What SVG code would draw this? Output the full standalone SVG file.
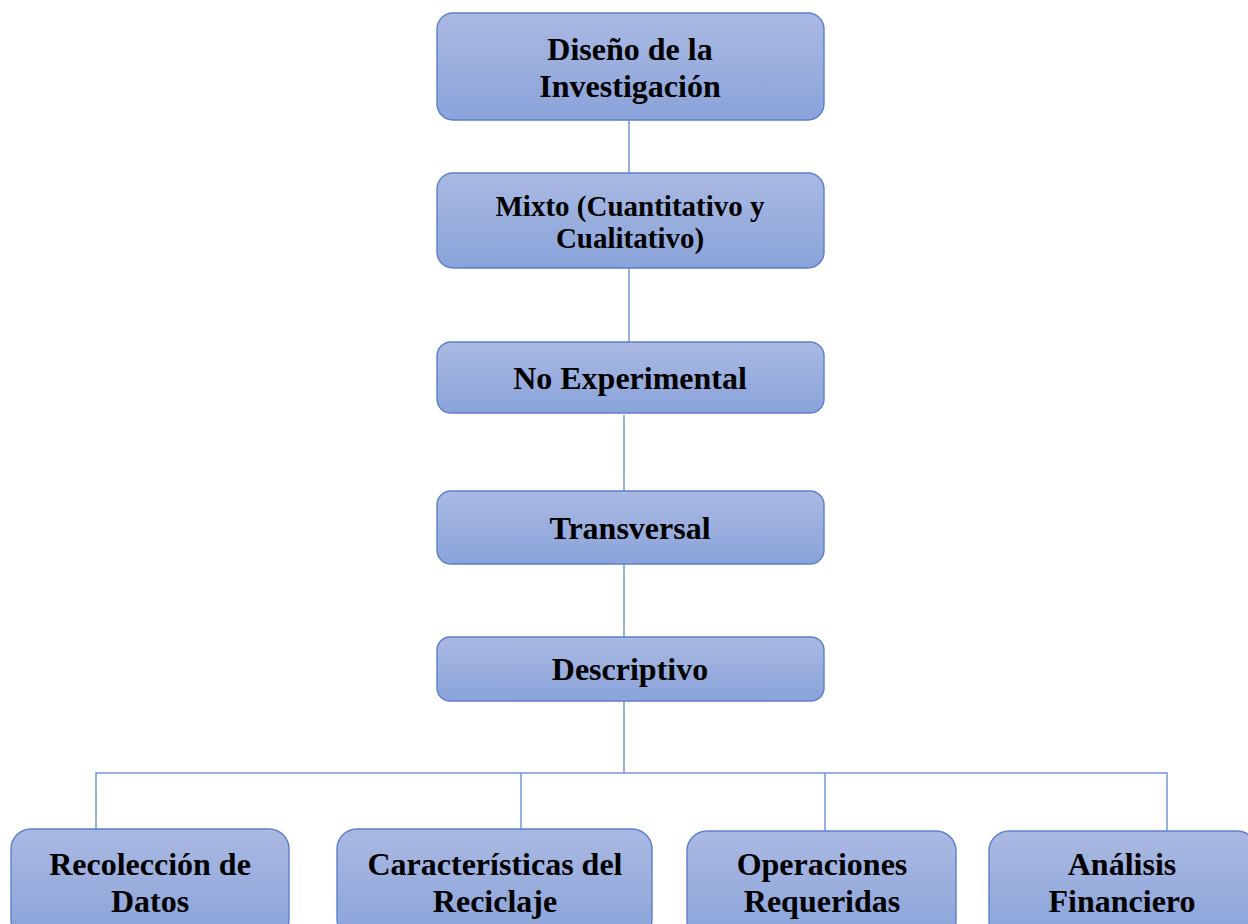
<svg xmlns="http://www.w3.org/2000/svg" width="1248" height="924" viewBox="0 0 1248 924">
<defs>
<linearGradient id="g" x1="0" y1="0" x2="0" y2="1">
<stop offset="0" stop-color="#aab9e2"/>
<stop offset="1" stop-color="#8aa3da"/>
</linearGradient>
<style>
.box{fill:url(#g);stroke:#5b80cb;stroke-width:1.4}
.t{font-family:"Liberation Serif","Times New Roman",serif;font-weight:bold;fill:#000;text-anchor:middle;font-size:32px}
.c{stroke:#7396d8;stroke-width:1.5;fill:none}
</style>
</defs>
<rect width="1248" height="924" fill="#ffffff"/>
<g id="connectors">
<line class="c" x1="629" y1="120" x2="629" y2="173"/>
<line class="c" x1="629" y1="268" x2="629" y2="342"/>
<line class="c" x1="624" y1="415" x2="624" y2="491"/>
<line class="c" x1="624" y1="564" x2="624" y2="637"/>
<line class="c" x1="624" y1="701" x2="624" y2="773"/>
<polyline class="c" points="96,829 96,773 1167,773 1167,831"/>
<line class="c" x1="521" y1="773" x2="521" y2="829"/>
<line class="c" x1="825" y1="773" x2="825" y2="831"/>
</g>
<g id="n1">
<rect class="box" x="437" y="13" width="387" height="107" rx="16"/>
<text class="t" x="630" y="60">Diseño de la</text>
<text class="t" x="630" y="97">Investigación</text>
</g>
<g id="n2">
<rect class="box" x="437" y="173" width="387" height="95" rx="16"/>
<text class="t" x="630" y="216" style="font-size:29px">Mixto (Cuantitativo y</text>
<text class="t" x="630" y="248" style="font-size:29px">Cualitativo)</text>
</g>
<g id="n3">
<rect class="box" x="437" y="342" width="387" height="71" rx="14"/>
<text class="t" x="630" y="389">No Experimental</text>
</g>
<g id="n4">
<rect class="box" x="437" y="491" width="387" height="73" rx="14"/>
<text class="t" x="630" y="539">Transversal</text>
</g>
<g id="n5">
<rect class="box" x="437" y="637" width="387" height="64" rx="13"/>
<text class="t" x="630" y="680">Descriptivo</text>
</g>
<g id="n6">
<rect class="box" x="11" y="829" width="278" height="110" rx="20"/>
<text class="t" x="150" y="875">Recolección de</text>
<text class="t" x="150" y="912">Datos</text>
</g>
<g id="n7">
<rect class="box" x="337" y="829" width="315" height="110" rx="20"/>
<text class="t" x="495" y="875">Características del</text>
<text class="t" x="495" y="912">Reciclaje</text>
</g>
<g id="n8">
<rect class="box" x="687" y="831" width="269" height="110" rx="20"/>
<text class="t" x="822" y="875">Operaciones</text>
<text class="t" x="822" y="912">Requeridas</text>
</g>
<g id="n9">
<rect class="box" x="989" y="831" width="268" height="110" rx="20"/>
<text class="t" x="1122" y="875">Análisis</text>
<text class="t" x="1122" y="912">Financiero</text>
</g>
</svg>
